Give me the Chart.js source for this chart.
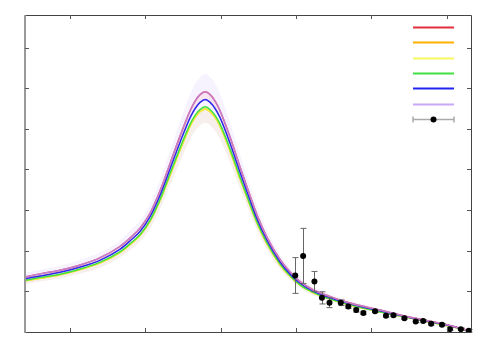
<!DOCTYPE html>
<html>
<head>
<meta charset="utf-8">
<script src="https://cdn.jsdelivr.net/npm/chart.js@4/dist/chart.umd.min.js"></script>
<style>
html,body{margin:0;padding:0;background:#fff;}
#wrap{width:500px;height:350px;}
</style>
</head>
<body>
<div id="wrap"><canvas id="c" width="500" height="350"></canvas></div>
<script>
/* curve abscissae */
const xs = [0.280,0.320,0.373,0.427,0.480,0.533,0.559,0.586,0.612,0.639,0.666,0.692,0.719,0.732,0.745,0.759,0.772,
            0.785,0.798,0.825,0.852,0.878,0.899,0.923,0.958,0.984,1.011,1.045,1.091,1.136,1.223,1.311,1.401,1.465];

/* curves */
const blueY   = [1.31,1.38,1.47,1.60,1.77,2.04,2.24,2.48,2.83,3.37,4.03,4.67,5.28,5.50,5.65,5.72,5.65,
                 5.50,5.28,4.64,3.91,3.24,2.73,2.26,1.72,1.43,1.20,1.01,0.84,0.71,0.52,0.34,0.17,0.02];
const redY    = [1.35,1.43,1.52,1.65,1.83,2.11,2.31,2.56,2.92,3.48,4.16,4.82,5.45,5.68,5.84,5.91,5.84,
                 5.68,5.45,4.79,4.04,3.35,2.82,2.33,1.78,1.48,1.24,1.04,0.87,0.73,0.54,0.35,0.18,0.02];
const greenY  = [1.27,1.34,1.42,1.55,1.72,1.98,2.17,2.40,2.74,3.27,3.91,4.53,5.12,5.33,5.47,5.54,5.47,
                 5.33,5.12,4.50,3.79,3.14,2.65,2.19,1.67,1.39,1.16,0.98,0.81,0.69,0.50,0.33,0.16,0.02];
const yellowY = [1.26,1.32,1.41,1.54,1.70,1.96,2.15,2.38,2.72,3.24,3.87,4.48,5.07,5.28,5.42,5.49,5.42,
                 5.28,5.07,4.45,3.75,3.11,2.62,2.17,1.65,1.37,1.15,0.97,0.81,0.68,0.50,0.33,0.16,0.02];
/* uncertainty band edges */
const bandTop = [1.45,1.53,1.63,1.78,1.96,2.26,2.49,2.75,3.14,3.74,4.47,5.18,5.86,6.11,6.27,6.35,6.27,
                 6.11,5.86,5.15,4.34,3.60,3.03,2.51,1.91,1.59,1.33,1.12,0.93,0.79,0.58,0.38,0.19,0.02];
const bandBot = [1.18,1.24,1.32,1.44,1.59,1.84,2.02,2.23,2.55,3.03,3.63,4.20,4.75,4.95,5.09,5.15,5.09,
                 4.95,4.75,4.18,3.52,2.92,2.46,2.03,1.55,1.29,1.08,0.91,0.76,0.64,0.47,0.31,0.15,0.02];

/* measurements */
const dataX   = [0.998,1.019,1.049,1.069,1.089,1.119,1.139,1.160,1.179,1.210,1.239,1.259,1.288,1.318,1.338,1.359,1.388,1.409,1.438,1.459];
const dataY   = [1.39,1.87,1.24,0.84,0.72,0.72,0.63,0.54,0.47,0.51,0.40,0.41,0.34,0.26,0.27,0.20,0.18,0.07,0.07,0.03];
const dataErr = [0.44,0.68,0.25,0.15,0.12,0.07,0.05,0.05,0.04,0.03,0.03,0.03,0.03,0.03,0.03,0.03,0.03,0.03,0.03,0.03];

const xTicks = [0.4,0.6,0.8,1.0,1.2,1.4];
const yTicks = [1,2,3,4,5,6,7];

const legendColors = ["#e0303a","#ffb000","#f8f860","#40e040","#2424f0","#c8a8f8"];

const pts = ys => xs.map((x,i)=>({x, y:ys[i]}));
const curve = (ys,color,extra) => Object.assign({data:pts(ys),borderColor:color,borderWidth:1.5,pointRadius:0,fill:false,cubicInterpolationMode:"monotone"},extra||{});

const decor = {
  id:"decor",
  beforeDatasetDraw(chart,args){
    if(args.index!==0) return;
    const {ctx,scales:{x,y}} = chart;
    ctx.save();
    ctx.strokeStyle="#666";
    ctx.lineWidth=1;
    dataX.forEach((v,i)=>{
      const px=Math.round(x.getPixelForValue(v))+0.5;
      const t=y.getPixelForValue(dataY[i]+dataErr[i]);
      const b=y.getPixelForValue(dataY[i]-dataErr[i]);
      ctx.beginPath();
      ctx.moveTo(px,t);ctx.lineTo(px,b);
      ctx.moveTo(px-3,t);ctx.lineTo(px+3,t);
      ctx.moveTo(px-3,b);ctx.lineTo(px+3,b);
      ctx.stroke();
    });
    ctx.restore();
  },
  afterDraw(chart){
    const {ctx,chartArea:ca,scales:{x,y}} = chart;
    ctx.save();
    // frame
    ctx.strokeStyle="#444";
    ctx.lineWidth=1;
    ctx.beginPath();
    ctx.moveTo(ca.left,ca.top+0.5);ctx.lineTo(ca.right+0.5,ca.top+0.5);
    ctx.lineTo(ca.right+0.5,ca.bottom+0.5);ctx.lineTo(ca.left,ca.bottom+0.5);
    ctx.stroke();
    ctx.strokeStyle="#999";
    ctx.lineWidth=2;
    ctx.beginPath();
    ctx.moveTo(ca.left,ca.top);ctx.lineTo(ca.left,ca.bottom+1);
    ctx.stroke();
    // ticks
    ctx.strokeStyle="#555";
    ctx.lineWidth=1;
    ctx.beginPath();
    xTicks.forEach(v=>{
      const px=Math.round(x.getPixelForValue(v))+0.5;
      ctx.moveTo(px,ca.bottom);ctx.lineTo(px,ca.bottom-4);
      ctx.moveTo(px,ca.top);ctx.lineTo(px,ca.top+4);
    });
    yTicks.forEach(v=>{
      const py=Math.round(y.getPixelForValue(v))+0.5;
      ctx.moveTo(ca.left,py);ctx.lineTo(ca.left+4,py);
      ctx.moveTo(ca.right,py);ctx.lineTo(ca.right-4,py);
    });
    ctx.stroke();
    // key
    const x0=413,x1=454,y0=27,dy=15.3;
    ctx.lineWidth=2;
    legendColors.forEach((c,i)=>{
      const ly=Math.round(y0+i*dy)+0.5;
      ctx.strokeStyle=c;
      ctx.beginPath();ctx.moveTo(x0,ly);ctx.lineTo(x1,ly);ctx.stroke();
    });
    const ey=Math.round(y0+6*dy)+0.5;
    ctx.strokeStyle="#aaa";
    ctx.lineWidth=1.5;
    ctx.beginPath();
    ctx.moveTo(x0,ey);ctx.lineTo(x1,ey);
    ctx.moveTo(x0,ey-3);ctx.lineTo(x0,ey+3);
    ctx.moveTo(x1,ey-3);ctx.lineTo(x1,ey+3);
    ctx.stroke();
    ctx.fillStyle="#000";
    ctx.beginPath();ctx.arc((x0+x1)/2,ey,3,0,Math.PI*2);ctx.fill();
    ctx.restore();
  }
};

new Chart(document.getElementById("c"),{
  type:"line",
  data:{datasets:[
    {data:dataX.map((v,i)=>({x:v,y:dataY[i]})),showLine:false,pointRadius:3,pointBackgroundColor:"#000",pointBorderColor:"#000",pointBorderWidth:0},
    curve(redY,"rgba(190,150,250,0.75)"),
    curve(redY,"#e0303a",{fill:{target:3},backgroundColor:"rgba(255,110,120,0.10)"}),
    curve(blueY,"#2424f0"),
    curve(greenY,"#40e040",{fill:{target:8},backgroundColor:"rgba(255,215,130,0.16)"}),
    curve(yellowY,"#f2f230"),
    curve(yellowY,"#ffb000"),
    curve(bandTop,"rgba(0,0,0,0)",{borderWidth:0,fill:{target:8},backgroundColor:"rgba(200,180,255,0.16)"}),
    curve(bandBot,"rgba(0,0,0,0)",{borderWidth:0})
  ]},
  options:{
    responsive:false,
    animation:false,
    layout:{padding:{left:25,right:29,top:15,bottom:18}},
    plugins:{legend:{display:false},tooltip:{enabled:false}},
    scales:{
      x:{type:"linear",display:false,min:0.28,max:1.465},
      y:{type:"linear",display:false,min:0,max:7.8}
    }
  },
  plugins:[decor]
});
</script>
</body>
</html>
